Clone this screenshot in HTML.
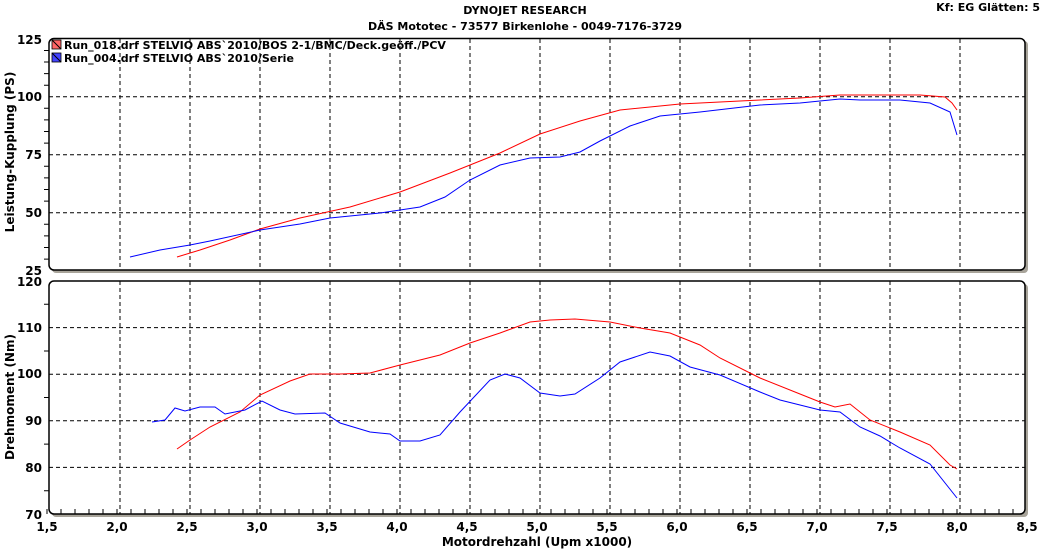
<!DOCTYPE html><html><head><style>body{margin:0;background:#fff}svg{font-family:"DejaVu Sans","Liberation Sans",sans-serif;font-weight:bold}</style></head><body>
<svg width="1050" height="549" xmlns="http://www.w3.org/2000/svg" font-size="11">
<text x="525" y="14" text-anchor="middle">DYNOJET RESEARCH</text>
<text x="525" y="30" text-anchor="middle">DÄS Mototec - 73577 Birkenlohe  - 0049-7176-3729</text>
<text x="1040" y="11" text-anchor="end">Kf: EG  Glätten: 5</text>
<!-- shadows -->
<rect x="52" y="41" width="976" height="232" fill="#a8a49a" rx="4"/>
<rect x="52" y="284" width="976" height="233" fill="#a8a49a" rx="4"/>
<rect x="49" y="38.5" width="976" height="231.5" fill="#fff" stroke="#000" stroke-width="1.5" rx="5"/>
<rect x="49" y="281" width="976" height="233" fill="#fff" stroke="#000" stroke-width="1.5" rx="5"/>
<g stroke="#000" stroke-dasharray="4,3" stroke-width="1">
<path d="M120 39V270M190 39V270M260 39V270M330 39V270M400 39V270M470 39V270M540 39V270M610 39V270M680 39V270M750 39V270M820 39V270M890 39V270M960 39V270"/>
<path d="M120 281V514M190 281V514M260 281V514M330 281V514M400 281V514M470 281V514M540 281V514M610 281V514M680 281V514M750 281V514M820 281V514M890 281V514M960 281V514"/>
<path d="M49 96.7H1025M49 154.7H1025M49 212.7H1025M49 327.6H1025M49 374.2H1025M49 420.8H1025M49 467.4H1025"/>
</g>
<g stroke="#000" stroke-width="1">
<path d="M44 50.5H49M44 62H49M44 73.6H49M44 85.2H49M44 108.3H49M44 119.9H49M44 131.5H49M44 143.1H49M44 166.3H49M44 177.9H49M44 189.5H49M44 201.1H49M44 224.3H49M44 235.9H49M44 247.5H49M44 259.1H49"/>
<path d="M44 304.3H49M44 351H49M44 397.5H49M44 444.1H49M44 490.7H49"/>
<path d="M47 509V514M61 509V514M75 509V514M89 509V514M103 509V514M117 509V514M131 509V514M145 509V514M159 509V514M173 509V514M187 509V514M201 509V514M215 509V514M229 509V514M243 509V514M257 509V514M271 509V514M285 509V514M299 509V514M313 509V514M327 509V514M341 509V514M355 509V514M369 509V514M383 509V514M397 509V514M411 509V514M425 509V514M439 509V514M453 509V514M467 509V514M481 509V514M495 509V514M509 509V514M523 509V514M537 509V514M551 509V514M565 509V514M579 509V514M593 509V514M607 509V514M621 509V514M635 509V514M649 509V514M663 509V514M677 509V514M691 509V514M705 509V514M719 509V514M733 509V514M747 509V514M761 509V514M775 509V514M789 509V514M803 509V514M817 509V514M831 509V514M845 509V514M859 509V514M873 509V514M887 509V514M901 509V514M915 509V514M929 509V514M943 509V514M957 509V514M971 509V514M985 509V514M999 509V514M1013 509V514"/>
</g>
<g font-size="12" text-anchor="end">
<text x="42" y="44">125</text><text x="42" y="101">100</text><text x="42" y="159">75</text><text x="42" y="217">50</text><text x="42" y="275">25</text>
<text x="42" y="286">120</text><text x="42" y="332">110</text><text x="42" y="378">100</text><text x="42" y="425">90</text><text x="42" y="472">80</text><text x="42" y="519">70</text>
</g>
<g font-size="12" text-anchor="middle">
<text x="47" y="531">1,5</text><text x="117" y="531">2,0</text><text x="187" y="531">2,5</text><text x="257" y="531">3,0</text><text x="327" y="531">3,5</text><text x="397" y="531">4,0</text><text x="467" y="531">4,5</text><text x="537" y="531">5,0</text><text x="607" y="531">5,5</text><text x="677" y="531">6,0</text><text x="747" y="531">6,5</text><text x="817" y="531">7,0</text><text x="887" y="531">7,5</text><text x="957" y="531">8,0</text><text x="1027" y="531">8,5</text>
</g>
<text x="537" y="546" text-anchor="middle" font-size="12">Motordrehzahl (Upm x1000)</text>
<text transform="translate(14,152) rotate(-90)" text-anchor="middle" font-size="12">Leistung-Kupplung (PS)</text>
<text transform="translate(14,397) rotate(-90)" text-anchor="middle" font-size="12">Drehmoment (Nm)</text>
<rect x="52" y="40" width="9" height="9" fill="#f66" stroke="#000" stroke-width="0.8"/><path d="M52 40L61 49" stroke="#000"/>
<rect x="52" y="53" width="9" height="9" fill="#44f" stroke="#000" stroke-width="0.8"/><path d="M52 53L61 62" stroke="#000"/>
<text x="64" y="49">Run_018.drf STELVIO ABS`2010/BOS 2-1/BMC/Deck.geöff./PCV</text>
<text x="64" y="62">Run_004.drf STELVIO ABS`2010/Serie</text>
<g fill="none" stroke-width="1">
<polyline stroke="#f00" points="177,257 200,250 230,240 260,229 300,218 350,207 400,192 450,173 500,153 540,134 580,121 620,110 680,104 740,101 800,98 840,95 880,95 920,95 945,97 952,103 957,110"/>
<polyline stroke="#00f" points="130,257 160,250 190,245 210,241 260,230 300,224 330,218 380,213 420,207 445,197 470,180 500,165 530,158 560,157 580,152 600,141 630,126 660,116 700,112 760,105 800,103 840,99 860,100 900,100 930,103 950,112 957,135"/>
<polyline stroke="#f00" points="177,449 190,440 210,427 240,412 260,395 290,381 310,374 340,374 370,373 400,365 440,355 470,343 500,333 530,322 550,320 575,319 610,322 640,328 670,333 700,345 720,358 760,378 800,394 820,402 835,407 850,404 870,420 900,432 930,445 950,465 957,469"/>
<polyline stroke="#00f" points="152,422 165,420 175,408 185,411 200,407 215,407 225,414 245,410 262,401 280,410 295,414 325,413 340,423 370,432 390,434 400,441 420,441 440,435 460,412 490,380 505,374 520,378 540,393 560,396 575,394 600,378 620,362 650,352 670,356 690,367 720,375 760,392 780,400 820,410 840,412 860,427 880,436 900,448 930,464 957,498"/>
</g>
</svg></body></html>
